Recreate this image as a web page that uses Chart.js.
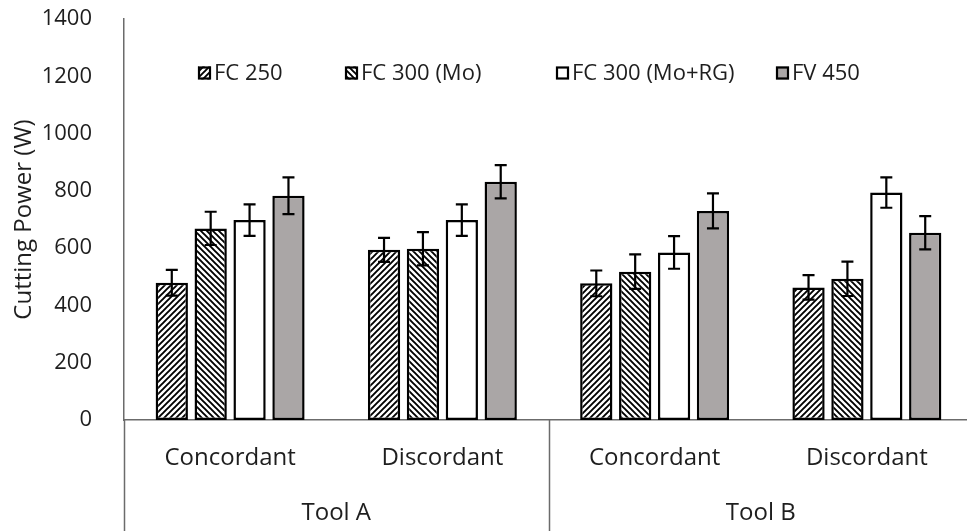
<!DOCTYPE html>
<html><head><meta charset="utf-8">
<script src="https://cdn.jsdelivr.net/npm/chart.js@4.4.0/dist/chart.umd.min.js"></script>
<style>
html,body{margin:0;padding:0;background:#fff;overflow:hidden;width:967px;height:531px}
#wrap{position:relative;width:973px;height:531px}
canvas{display:block}
</style></head><body>
<div id="wrap"><canvas id="c" width="973" height="531"></canvas></div>
<script>
// Outer and inner category levels
const tools = ['Tool A', 'Tool B'];
const conditions = ['Concordant', 'Discordant', 'Concordant', 'Discordant'];
const seriesNames = ['FC 250', 'FC 300 (Mo)', 'FC 300 (Mo+RG)', 'FV 450'];

// Mean cutting power (W)
const fc250 = [479, 594, 477, 463];
const fc300Mo = [669, 598, 518, 493];
const fc300MoRG = [698, 698, 585, 794];
const fv450 = [783, 832, 730, 654];

// Error bar half-lengths (W)
const fc250Err = [45, 42, 45, 43];
const fc300MoErr = [58, 58, 60, 60];
const fc300MoRGErr = [55, 55, 57, 53];
const fv450Err = [64, 58, 61, 58];

const yTicks = [0, 200, 400, 600, 800, 1000, 1200, 1400];

const FONT = "'Open Sans', 'DejaVu Sans', sans-serif";
const TEXT = '#1e1e1e';
const AXIS = '#6b6b6b';

function hatch(up) {
  const s = 6;
  const c = document.createElement('canvas');
  c.width = s; c.height = s;
  const g = c.getContext('2d');
  g.fillStyle = '#ffffff';
  g.fillRect(0, 0, s, s);
  g.strokeStyle = '#000000';
  g.lineWidth = 1.9;
  g.beginPath();
  if (up) {
    g.moveTo(-1, s + 1); g.lineTo(s + 1, -1);
    g.moveTo(-1, 1); g.lineTo(1, -1);
    g.moveTo(s - 1, s + 1); g.lineTo(s + 1, s - 1);
  } else {
    g.moveTo(-1, -1); g.lineTo(s + 1, s + 1);
    g.moveTo(s - 1, -1); g.lineTo(s + 1, 1);
    g.moveTo(-1, s - 1); g.lineTo(1, s + 1);
  }
  g.stroke();
  return g.createPattern(c, 'repeat');
}

const fills = [hatch(true), hatch(false), '#ffffff', '#aaa6a6'];
const values = [fc250, fc300Mo, fc300MoRG, fv450];
const errors = [fc250Err, fc300MoErr, fc300MoRGErr, fv450Err];

const datasets = seriesNames.map((name, k) => ({
  label: name,
  data: values[k],
  errors: errors[k],
  backgroundColor: fills[k],
  borderColor: '#000000',
  borderWidth: 2.5,
  borderSkipped: false,
  categoryPercentage: 0.733,
  barPercentage: 0.83
}));

// Error bars with caps
const errorBars = {
  id: 'errorBars',
  afterDatasetsDraw(chart) {
    const ctx = chart.ctx;
    const y = chart.scales.y;
    ctx.save();
    ctx.strokeStyle = '#000000';
    ctx.lineWidth = 2.2;
    chart.data.datasets.forEach((ds, di) => {
      const meta = chart.getDatasetMeta(di);
      meta.data.forEach((bar, i) => {
        const v = ds.data[i], e = ds.errors[i];
        const yt = y.getPixelForValue(v + e);
        const yb = y.getPixelForValue(v - e);
        const x = bar.x, w = 6;
        ctx.beginPath();
        ctx.moveTo(x, yt); ctx.lineTo(x, yb);
        ctx.moveTo(x - w, yt); ctx.lineTo(x + w, yt);
        ctx.moveTo(x - w, yb); ctx.lineTo(x + w, yb);
        ctx.stroke();
      });
    });
    ctx.restore();
  }
};

// Two-level category labels with group separators
const groupedAxis = {
  id: 'groupedAxis',
  afterDraw(chart) {
    const ctx = chart.ctx;
    const x = chart.scales.x;
    const area = chart.chartArea;
    const bottom = chart.height;
    ctx.save();
    ctx.strokeStyle = AXIS;
    ctx.lineWidth = 1.5;
    const step = x.getPixelForValue(1) - x.getPixelForValue(0);
    const perTool = conditions.length / tools.length;
    for (let t = 0; t <= tools.length; t++) {
      const xs = Math.round(x.getPixelForValue(t * perTool) - step / 2) + 0.5;
      ctx.beginPath();
      ctx.moveTo(xs, area.bottom);
      ctx.lineTo(xs, bottom);
      ctx.stroke();
    }
    ctx.fillStyle = TEXT;
    ctx.textAlign = 'center';
    ctx.textBaseline = 'middle';
    ctx.font = '24px ' + FONT;
    conditions.forEach((c, i) => {
      ctx.fillText(c, x.getPixelForValue(i), area.bottom + 38);
    });
    tools.forEach((t, k) => {
      const a = x.getPixelForValue(k * perTool) - step / 2;
      const b = x.getPixelForValue((k + 1) * perTool - 1) + step / 2;
      ctx.fillText(t, (a + b) / 2, area.bottom + 93);
    });
    ctx.restore();
  }
};

// Legend placed inside the plot area
const innerLegend = {
  id: 'innerLegend',
  afterDraw(chart) {
    const ctx = chart.ctx;
    const starts = [198, 345, 556, 776];
    const cy = 73, box = 13;
    ctx.save();
    ctx.font = '22px ' + FONT;
    ctx.textBaseline = 'middle';
    ctx.textAlign = 'left';
    chart.data.datasets.forEach((ds, i) => {
      const x0 = starts[i];
      ctx.fillStyle = ds.backgroundColor;
      ctx.fillRect(x0, cy - box / 2, box, box);
      ctx.strokeStyle = '#000000';
      ctx.lineWidth = 2.2;
      ctx.strokeRect(x0 + 1, cy - box / 2 + 1, box - 2, box - 2);
      ctx.fillStyle = TEXT;
      ctx.fillText(ds.label, x0 + box + 3, cy + 1);
    });
    ctx.restore();
  }
};

new Chart(document.getElementById('c'), {
  type: 'bar',
  data: { labels: conditions.slice(), datasets },
  options: {
    responsive: false,
    animation: false,
    devicePixelRatio: 1,
    layout: { padding: { top: 19, right: 0, bottom: 0, left: 0 } },
    plugins: { legend: { display: false }, tooltip: { enabled: false } },
    scales: {
      x: {
        grid: { display: false },
        ticks: { display: false },
        border: { display: true, color: AXIS, width: 1.5 },
        afterFit(s) { s.height = 111; }
      },
      y: {
        min: 0,
        max: 1400,
        afterBuildTicks(s) { s.ticks = yTicks.map(v => ({ value: v })); },
        grid: { display: false },
        border: { display: true, color: AXIS, width: 1.5 },
        ticks: {
          color: TEXT,
          font: { family: FONT, size: 22 },
          padding: 24,
          callback: v => String(v)
        },
        title: {
          display: true,
          text: 'Cutting Power (W)',
          color: TEXT,
          font: { family: FONT, size: 24 },
          padding: { top: 10, bottom: 0 }
        },
        afterFit(s) { s.width = 124; s.paddingTop = 0; s.paddingBottom = 0; }
      }
    }
  },
  plugins: [errorBars, groupedAxis, innerLegend]
});
</script>
</body></html>
